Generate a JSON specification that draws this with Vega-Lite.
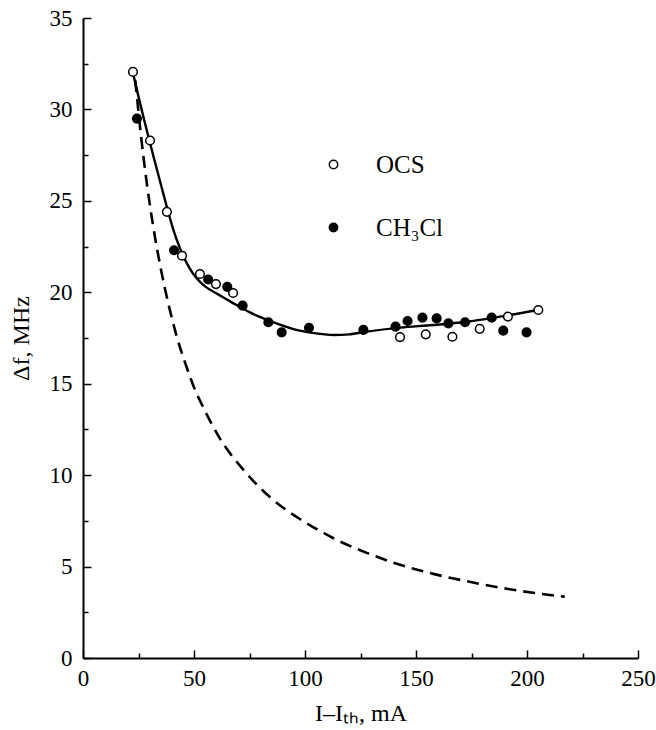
{
  "$schema": "https://vega.github.io/schema/vega-lite/v6.json",
  "autosize": {"type": "none"},
  "padding": {"left": 83, "top": 18, "right": 18, "bottom": 72},
  "width": 555,
  "height": 640,
  "background": "white",
  "config": {
    "view": {"stroke": null},
    "font": "Liberation Serif",
    "axis": {
      "grid": false,
      "domainColor": "black",
      "domainWidth": 2,
      "tickColor": "black",
      "tickWidth": 1.5,
      "labelFont": "Liberation Serif",
      "labelFontSize": 23,
      "labelColor": "black",
      "titleFont": "Liberation Serif",
      "titleFontSize": 24,
      "titleFontWeight": "normal",
      "titleColor": "black",
      "labelFlush": false,
      "labelOverlap": false
    }
  },
  "resolve": {"axis": {"x": "independent", "y": "independent"}},
  "layer": [
    {
      "data": {"values": [
        {"x": 23.5, "y": 31.6}, {"x": 24.2, "y": 30.8}, {"x": 26, "y": 28.7},
        {"x": 28.7, "y": 26.0}, {"x": 31.5, "y": 23.7}, {"x": 34.7, "y": 21.5},
        {"x": 38.4, "y": 19.4}, {"x": 42.2, "y": 17.6}, {"x": 46.7, "y": 15.9},
        {"x": 50, "y": 14.8}, {"x": 54.2, "y": 13.7}, {"x": 61.7, "y": 12.0},
        {"x": 72.2, "y": 10.3}, {"x": 84.2, "y": 8.8}, {"x": 97.7, "y": 7.6},
        {"x": 105.3, "y": 7.05}, {"x": 112.8, "y": 6.55}, {"x": 127.8, "y": 5.75},
        {"x": 142.8, "y": 5.1}, {"x": 157.8, "y": 4.6}, {"x": 172.8, "y": 4.2},
        {"x": 187.8, "y": 3.85}, {"x": 202, "y": 3.58}, {"x": 217, "y": 3.35}
      ]},
      "mark": {"type": "line", "color": "black", "strokeWidth": 2.6, "strokeDash": [12, 7], "interpolate": "monotone"},
      "encoding": {
        "x": {
          "field": "x", "type": "quantitative",
          "scale": {"domain": [0, 250], "nice": false, "zero": false},
          "axis": {
            "orient": "bottom",
            "title": null,
            "labels": false,
            "domain": false,
            "values": [25, 75, 125, 175, 225],
            "tickSize": -5
          }
        },
        "y": {
          "field": "y", "type": "quantitative",
          "scale": {"domain": [0, 35], "nice": false, "zero": false},
          "axis": {
            "orient": "left",
            "title": null,
            "labels": false,
            "domain": false,
            "values": [2.5, 7.5, 12.5, 17.5, 22.5, 27.5, 32.5],
            "tickSize": -5
          }
        }
      }
    },
    {
      "data": {"values": [
        {"x": 22.5, "y": 32.0}, {"x": 25, "y": 30.7}, {"x": 27.5, "y": 29.45},
        {"x": 30.2, "y": 28.15}, {"x": 33, "y": 26.85}, {"x": 35.5, "y": 25.7},
        {"x": 37.7, "y": 24.7}, {"x": 40.5, "y": 23.5}, {"x": 43.7, "y": 22.4},
        {"x": 46.5, "y": 21.65}, {"x": 49.7, "y": 21.0}, {"x": 52.5, "y": 20.6},
        {"x": 55, "y": 20.32}, {"x": 60.2, "y": 19.93}, {"x": 67, "y": 19.45},
        {"x": 75.2, "y": 18.9}, {"x": 85, "y": 18.4}, {"x": 97.7, "y": 17.9},
        {"x": 105, "y": 17.75}, {"x": 112.8, "y": 17.66}, {"x": 120, "y": 17.7},
        {"x": 127.8, "y": 17.85}, {"x": 142.8, "y": 18.07}, {"x": 157.8, "y": 18.21},
        {"x": 172.8, "y": 18.39}, {"x": 187.8, "y": 18.67}, {"x": 205, "y": 19.03}
      ]},
      "mark": {"type": "line", "color": "black", "strokeWidth": 2.4, "interpolate": "monotone"},
      "encoding": {
        "x": {"field": "x", "type": "quantitative", "axis": null},
        "y": {"field": "y", "type": "quantitative", "axis": null}
      }
    },
    {
      "data": {"values": [
        {"gas": "OCS", "x": 22.5, "y": 32.05},
        {"gas": "OCS", "x": 30.2, "y": 28.3},
        {"gas": "OCS", "x": 37.8, "y": 24.4},
        {"gas": "OCS", "x": 44.6, "y": 22.0},
        {"gas": "OCS", "x": 52.7, "y": 21.0},
        {"gas": "OCS", "x": 59.9, "y": 20.45},
        {"gas": "OCS", "x": 67.6, "y": 19.96},
        {"gas": "OCS", "x": 142.8, "y": 17.55},
        {"gas": "OCS", "x": 154.4, "y": 17.7},
        {"gas": "OCS", "x": 166.4, "y": 17.57},
        {"gas": "OCS", "x": 178.7, "y": 18.0},
        {"gas": "OCS", "x": 191.4, "y": 18.67},
        {"gas": "OCS", "x": 205.1, "y": 19.03},
        {"gas": "CH₃Cl", "x": 24.3, "y": 29.5},
        {"gas": "CH₃Cl", "x": 41.0, "y": 22.3},
        {"gas": "CH₃Cl", "x": 56.4, "y": 20.7},
        {"gas": "CH₃Cl", "x": 65.0, "y": 20.3},
        {"gas": "CH₃Cl", "x": 71.9, "y": 19.27},
        {"gas": "CH₃Cl", "x": 83.5, "y": 18.36},
        {"gas": "CH₃Cl", "x": 89.5, "y": 17.81},
        {"gas": "CH₃Cl", "x": 101.8, "y": 18.06},
        {"gas": "CH₃Cl", "x": 126.3, "y": 17.94},
        {"gas": "CH₃Cl", "x": 140.8, "y": 18.12},
        {"gas": "CH₃Cl", "x": 146.2, "y": 18.43},
        {"gas": "CH₃Cl", "x": 152.9, "y": 18.61},
        {"gas": "CH₃Cl", "x": 159.3, "y": 18.57},
        {"gas": "CH₃Cl", "x": 164.6, "y": 18.3},
        {"gas": "CH₃Cl", "x": 172.1, "y": 18.36},
        {"gas": "CH₃Cl", "x": 184.1, "y": 18.61},
        {"gas": "CH₃Cl", "x": 189.3, "y": 17.9},
        {"gas": "CH₃Cl", "x": 199.8, "y": 17.81}
      ]},
      "mark": {"type": "point", "filled": true, "shape": "circle", "size": 75, "stroke": "black", "strokeWidth": 1.5, "opacity": 1},
      "encoding": {
        "x": {
          "field": "x", "type": "quantitative",
          "axis": {
            "orient": "bottom",
            "title": "I–Iₜₕ, mA",
            "values": [0, 50, 100, 150, 200, 250],
            "tickSize": -8,
            "labelPadding": 17,
            "titleY": 62,
            "titleBaseline": "alphabetic"
          }
        },
        "y": {
          "field": "y", "type": "quantitative",
          "axis": {
            "orient": "left",
            "title": "Δf, MHz",
            "values": [0, 5, 10, 15, 20, 25, 30, 35],
            "tickSize": -8,
            "labelPadding": 19,
            "titleX": -55,
            "titleBaseline": "alphabetic"
          }
        },
        "fill": {
          "field": "gas", "type": "nominal",
          "scale": {"domain": ["OCS", "CH₃Cl"], "range": ["white", "black"]},
          "legend": {
            "title": null,
            "orient": "none",
            "legendX": 238,
            "legendY": 134,
            "symbolType": "circle",
            "symbolSize": 70,
            "symbolStrokeColor": "black",
            "symbolStrokeWidth": 1.5,
            "labelFont": "Liberation Serif",
            "labelFontSize": 25,
            "labelColor": "black",
            "labelOffset": 30,
            "rowPadding": 37,
            "padding": 0
          }
        }
      }
    }
  ]
}
